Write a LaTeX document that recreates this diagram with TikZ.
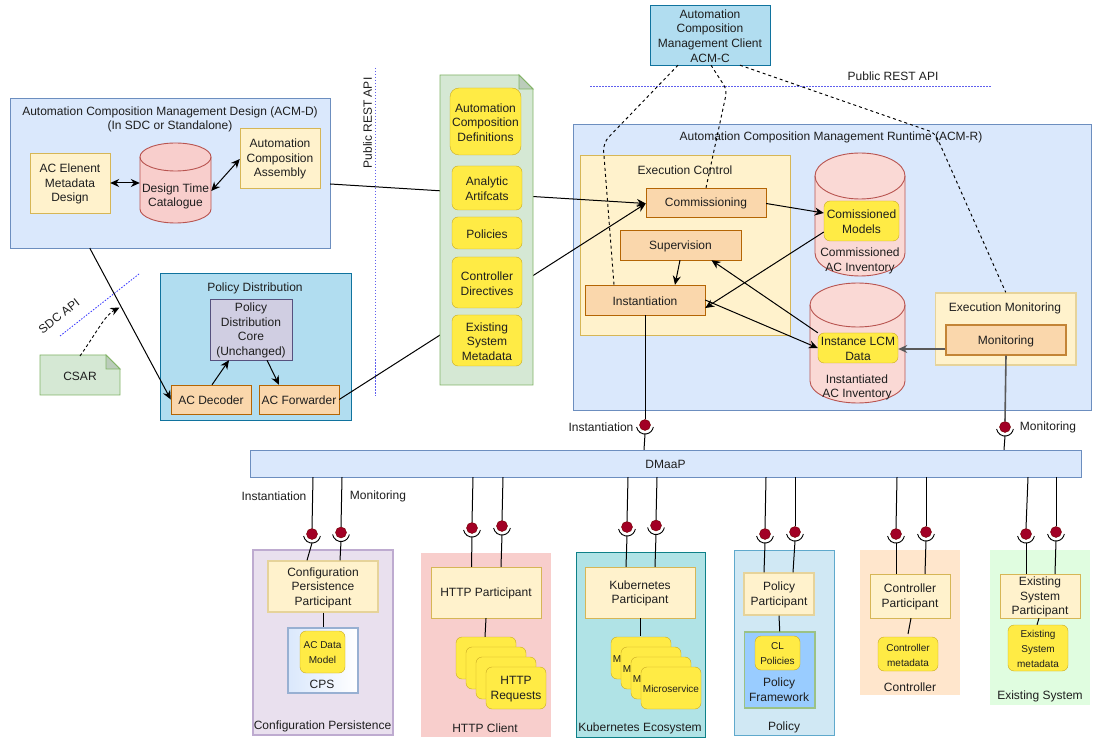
\documentclass[tikz,border=0pt]{standalone}
\usepackage{fontspec}
\setmainfont{Liberation Sans}
\usetikzlibrary{arrows.meta,shapes.geometric,shapes.misc,calc,shadings}
\definecolor{txt}{HTML}{1E1E1E}
\definecolor{bluef}{HTML}{DAE8FC}\definecolor{blued}{HTML}{6C8EBF}
\definecolor{creamf}{HTML}{FFF2CC}\definecolor{creamd}{HTML}{D6B656}
\definecolor{redf}{HTML}{F8CECC}\definecolor{redd}{HTML}{B85450}
\definecolor{orf}{HTML}{FAD7AC}\definecolor{ord}{HTML}{B46504}
\definecolor{skyf}{HTML}{B1DDF0}\definecolor{skyd}{HTML}{10739E}
\definecolor{purf}{HTML}{D0CEE2}\definecolor{purd}{HTML}{56517E}
\definecolor{grnf}{HTML}{D5E8D4}\definecolor{grnd}{HTML}{82B366}
\definecolor{yelf}{HTML}{FFEB45}\definecolor{yeld}{HTML}{C8A923}
\definecolor{ballf}{HTML}{A20025}\definecolor{balld}{HTML}{6F0000}
\definecolor{apid}{HTML}{5F5FEE}
\definecolor{tealf}{HTML}{B0E3E6}\definecolor{teald}{HTML}{0E8088}
\definecolor{cylf}{HTML}{FAD9D5}
\definecolor{lilacf}{HTML}{E9E0EE}\definecolor{lilacd}{HTML}{BEABD0}
\definecolor{polf}{HTML}{D0E8F4}\definecolor{pold}{HTML}{5FA9CC}
\definecolor{pfwf}{HTML}{99CCFF}
\definecolor{ctlf}{HTML}{FFE6CC}
\definecolor{exsf}{HTML}{E0FDE0}
\tikzset{
  every node/.style={text=txt,font=\fontsize{12}{14.6}\selectfont,align=center,inner sep=0pt,yshift=-1pt},
  bluebox/.style={draw=blued,fill=bluef},
  creambox/.style={draw=creamd,fill=creamf},
  softcream/.style={draw=creamd!60,fill=creamf,line width=1.3pt},
  orbox/.style={draw=ord,fill=orf},
  skybox/.style={draw=skyd,fill=skyf},
  purbox/.style={draw=purd,fill=purf},
  yelbox/.style={draw=yeld,fill=yelf,rounded corners=6pt},
  smalltxt/.style={font=\fontsize{10}{15}\selectfont},
  conn/.style={draw=black,line width=1pt},
  arr/.style={conn,-{Stealth[length=9pt,width=8pt]}},
  dbl/.style={conn,{Stealth[length=9pt,width=8pt]}-{Stealth[length=9pt,width=8pt]}},
  dashc/.style={draw=black,line width=.95pt,dash pattern=on 3pt off 3pt},
  apiline/.style={draw=apid,line width=.8pt,dash pattern=on 1.5pt off 1.5pt},
  ball/.style={circle,fill=ballf,draw=balld,line width=.4pt,minimum size=11pt,yshift=1pt},
}
% box by its corners; its text sits 1px below the centre, as in the reference
\newcommand{\bx}[7]{%
  \pgfmathsetmacro\cxx{(#2+#4)/2}\pgfmathsetmacro\cyy{(#3+#5)/2}%
  \pgfmathsetmacro\www{#4-#2}\pgfmathsetmacro\hhh{#5-#3}%
  \node[#6,yshift=1pt,minimum width=\www pt,minimum height=\hhh pt] (#1) at (\cxx,\cyy) {};
  \if\relax\detokenize{#7}\relax\else\node (#1t) at (#1.center) {#7};\fi}
% the same, with the small font
\newcommand{\bxs}[7]{%
  \pgfmathsetmacro\cxx{(#2+#4)/2}\pgfmathsetmacro\cyy{(#3+#5)/2}%
  \pgfmathsetmacro\www{#4-#2}\pgfmathsetmacro\hhh{#5-#3}%
  \node[#6,yshift=1pt,minimum width=\www pt,minimum height=\hhh pt] (#1) at (\cxx,\cyy) {};
  \node[smalltxt] (#1t) at (#1.center) {#7};}
% cylinder: name, x1, y1, x2, y2, ry, fill colour
\newcommand{\cyl}[7]{%
  \pgfmathsetmacro\cxx{(#2+#4)/2}\pgfmathsetmacro\rxx{(#4-#2)/2}%
  \pgfmathsetmacro\aaa{#3+#6}\pgfmathsetmacro\bbb{#5-#6}%
  \draw[redd,fill=#7,line width=.9pt] (#2,\aaa) arc[x radius=\rxx pt,y radius=#6pt,start angle=180,end angle=0]
    -- (#4,\bbb) arc[x radius=\rxx pt,y radius=#6pt,start angle=0,end angle=-180] -- cycle;
  \draw[redd,line width=.9pt] (#2,\aaa) arc[x radius=\rxx pt,y radius=#6pt,start angle=180,end angle=360];
  \pgfmathsetmacro\cyy{(#3+#5)/2}\pgfmathsetmacro\www{#4-#2}\pgfmathsetmacro\hhh{#5-#3}%
  \node[yshift=1pt,minimum width=\www pt,minimum height=\hhh pt] (#1) at (\cxx,\cyy) {};}
% note shape
\newcommand{\notepath}[5]{%
  \draw[grnd,fill=grnf,line width=.9pt] (#1,#2) -- ({#3-#5},#2) -- (#3,{#2+#5}) -- (#3,#4) -- (#1,#4) -- cycle;
  \draw[grnd,fill=grnf!88!black,line width=.9pt] ({#3-#5},#2) -- ({#3-#5},{#2+#5}) -- (#3,{#2+#5}) -- cycle;}
% lollipop: name, x, y
\newcommand{\lolli}[3]{%
  \node[ball] (#1) at (#2,#3) {};
  \pgfmathsetmacro\sy{#3+8}%
  \coordinate (#1-s) at (#2,\sy);
  \draw[black,line width=.9pt] ([xshift=-8.4pt,yshift=-2pt]#1.center) arc[radius=8.5pt,start angle=190,end angle=350];}
% interface below DMaaP: name, ball x, ball y, x on DMaaP, x on participant, participant node
\newcommand{\iface}[6]{%
  \lolli{#1}{#2}{#3}
  \coordinate (#1-t) at (#4,0);
  \coordinate (#1-b) at (#5,0);
  \draw[conn] (dmaap.south -| #1-t) -- (#1.north);
  \draw[conn] (#1-s) -- (#6.north -| #1-b);}
\begin{document}
\begin{tikzpicture}[x=1pt,y=-1pt]
\useasboundingbox (0,0) rectangle (1096,743);
\fill[white] (0,0) rectangle (1096,743);

% ---- ACM-D
\bx{acmd}{10}{98}{330}{248}{bluebox}{}
\node (acmdt) at (170,118.5) {Automation Composition Management Design (ACM-D)\\(In SDC or Standalone)};
\bx{acel}{30}{153}{110}{213}{creambox}{AC Elenent\\Metadata\\Design}
\cyl{dtc}{140}{143}{211}{223}{14}{redf}
\node (dtct) at (175.5,195.5) {Design Time\\Catalogue};
\bx{aca}{240}{128}{320}{188}{creambox}{Automation\\Composition\\Assembly}

% ---- Policy distribution
\bx{pd}{160}{273}{351}{420}{skybox}{}
\node (pdt) at (255,287) {Policy Distribution};
\bx{core}{210}{299}{292}{360}{purbox}{Policy\\Distribution\\Core\\(Unchanged)}
\bx{dec}{171}{385}{251}{414}{orbox}{AC Decoder}
\bx{fwd}{259}{385}{339}{414}{orbox}{AC Forwarder}

% ---- CSAR
\notepath{40}{355}{120}{395}{14}
\node (csar) at (80,375) {CSAR};
\coordinate (csartop) at (80,355);
\coordinate (sdchit) at (119.5,306.5);

% ---- API markers
\coordinate (sdca) at (60,335);\coordinate (sdcb) at (139,273);
\draw[apiline,draw=blue!80!white] (sdca) -- (sdcb);
\node[rotate=38] (sdct) at (59,315) {SDC API};
\coordinate (pra) at (375,67);\coordinate (prb) at (375,395);
\draw[apiline] (pra) -- (prb);
\node[rotate=90] (prt) at (367.5,122) {Public REST API};
\coordinate (phb) at (590,85);\coordinate (phc) at (991,85);
\draw[apiline] (phb) -- (phc);
\node (pht) at (893,75) {Public REST API};

% ---- ACM-C
\bx{acmc}{650}{5}{770}{65}{skybox}{Automation\\Composition\\Management Client\\ACM-C}

% ---- ACM-R
\bx{acmr}{573}{124}{1091}{410}{bluebox}{}
\node (acmrt) at (831,136.5) {Automation Composition Management Runtime (ACM-R)};
\bx{ec}{580.5}{155}{790.5}{335}{creambox}{}
\node (ect) at (685,169) {Execution Control};
\bx{comm}{646}{188}{766}{217}{orbox}{Commissioning}
\bx{sup}{620}{230}{741}{260}{orbox}{Supervision}
\bx{inst}{585}{285}{705}{315}{orbox}{Instantiation}
\cyl{cinv}{815}{153}{905}{276}{23}{cylf}
\bx{cmod}{824}{201}{899}{241}{yelbox}{Comissioned\\Models}
\node (cinvt) at (860,260) {Commissioned\\AC Inventory};
\cyl{iinv}{810}{283}{905}{403}{22}{cylf}
\bx{ilcm}{818}{333}{898}{363}{yelbox}{Instance LCM\\Data}
\node (iinvt) at (857,386.5) {Instantiated\\AC Inventory};
\bx{em}{935.5}{293}{1076}{365}{softcream}{}
\node (emt) at (1005,307) {Execution Monitoring};
\bx{mon}{946}{325}{1066}{355}{orbox,draw=ord!80,line width=1.1pt}{Monitoring}

% ---- DMaaP
\bx{dmaap}{250}{450}{1081}{477}{bluebox}{DMaaP}

% ---- upper lollipops
\lolli{lin}{645}{425}
\lolli{lmo}{1005}{427}
\node (linl) at (601,426.5) {Instantiation};
\node (lmol) at (1048,426.5) {Monitoring};
\draw[conn] (inst.south) -- (lin.north);
\draw[conn] (lin-s) -- ([xshift=-21.5pt]dmaap.north);
\draw[draw=black!65,line width=1.6pt] (mon.south) -- (lmo.north);
\draw[conn] (lmo-s) -- ([xshift=338.5pt]dmaap.north);

% ---- Configuration Persistence
\bx{cpg}{253}{550}{393}{735}{draw=lilacd,fill=lilacf,line width=1.1pt}{}
\node (cpgt) at (322.5,725.5) {Configuration Persistence};
\bx{cpp}{268}{561}{378}{612}{softcream}{Configuration\\Persistence\\Participant}
\bx{cps}{288}{628}{358}{693}{draw=blued!70,left color=bluef,right color=white,line width=1.2pt}{}
\node (cpst) at (322,683.5) {CPS};
\bxs{acdm}{300}{631}{345}{673}{yelbox}{AC Data\\Model}
\draw[conn] (cpp.south) -- (cps.north);
\node (l1) at (274,495.5) {Instantiation};
\node (l2) at (378,495.5) {Monitoring};
\iface{a1}{312}{534}{313}{307}{cpp}
\iface{a2}{341}{532.5}{342}{340}{cpp}

% ---- HTTP client
\bx{hcg}{421}{553}{551}{737}{fill=redf}{}
\node (hcgt) at (485,727) {HTTP Client};
\bx{hp}{431}{567}{541}{618}{creambox}{HTTP Participant}
\bx{hr1}{456}{637}{516}{679}{yelbox}{}
\bx{hr2}{466}{647}{526}{689}{yelbox}{}
\bx{hr3}{476}{657}{536}{699}{yelbox}{}
\bx{hr4}{486}{667}{546}{709}{yelbox}{HTTP\\Requests}
\draw[conn] (hp.south) -- ([xshift=-1pt]hr1.north);
\iface{b1}{472}{528}{473}{471.5}{hp}
\iface{b2}{502}{526}{503}{501}{hp}

% ---- Kubernetes
\bx{kg}{576}{552}{705.5}{737}{draw=teald,fill=tealf}{}
\node (kgt) at (640,727) {Kubernetes Ecosystem};
\bx{kp}{585}{567}{695}{618}{creambox}{Kubernetes\\Participant}
\bxs{ms1}{611}{637}{671}{679}{yelbox}{Microservice}
\bxs{ms2}{621}{647}{681}{689}{yelbox}{Microservice}
\bxs{ms3}{631}{657}{691}{699}{yelbox}{Microservice}
\bxs{ms4}{641}{667}{701}{709}{yelbox}{Microservice}
\coordinate (kpdown) at (640,635);
\draw[conn] (kp.south) -- (kpdown);
\iface{c1}{627}{527}{628}{626}{kp}
\iface{c2}{656}{525.5}{657}{655}{kp}

% ---- Policy
\bx{pg}{734}{550}{834}{735}{draw=pold,fill=polf}{}
\node (pgt) at (784,726) {Policy};
\bx{pp}{744}{573}{814}{615}{softcream}{Policy\\Participant}
\bx{pf}{744.5}{632}{815}{708}{draw=grnd!80,fill=pfwf,line width=1.1pt}{}
\node (pft) at (779,689) {Policy\\Framework};
\bxs{clp}{755}{636}{800}{670}{yelbox}{CL\\Policies}
\draw[conn] (pp.south) -- (pf.north);
\iface{d1}{765}{534}{766}{764}{pp}
\iface{d2}{795}{532}{795}{793}{pp}

% ---- Controller
\bx{cg}{860}{550}{960}{695}{fill=ctlf}{}
\node (cgt) at (910,686) {Controller};
\bx{ctp}{870}{574}{950}{618}{creambox}{Controller\\Participant}
\bxs{ctm}{878}{637}{938}{671}{yelbox}{Controller\\metadata}
\coordinate (ctdown) at (908,633);
\draw[conn] ([xshift=1pt]ctp.south) -- (ctdown);
\iface{e1}{896}{534}{897}{896}{ctp}
\iface{e2}{926}{532}{926}{925}{ctp}

% ---- Existing system
\bx{eg}{990}{550}{1090}{705}{fill=exsf}{}
\node (egt) at (1040,695.5) {Existing System};
\bx{ep}{1000}{574}{1080}{618}{creambox}{Existing\\System\\Participant}
\bxs{emd}{1008}{625}{1068}{671}{yelbox}{Existing\\System\\metadata}
\draw[conn] ([xshift=-1pt]ep.south) -- ([xshift=-1pt]emd.north);
\iface{f1}{1026}{534}{1028}{1026}{ep}
\iface{f2}{1056}{532}{1056}{1055}{ep}

% ---- connectors, left
\draw[dbl] (acel.east) -- (dtc.west);
\draw[dbl] ([yshift=-8pt]dtc.east) -- ([yshift=-1pt]aca.west);
\draw[arr] (acmd.south west) ++(80,0) -- (dec.west);
\draw[arr] ([xshift=1pt]dec.north) -- ([xshift=-22pt]core.south);
\draw[arr] ([xshift=16pt]core.south) -- ([xshift=-20pt]fwd.north);
\draw[arr,dash pattern=on 3pt off 2.5pt,line width=.9pt] (csartop) .. controls (97,332) and (105,315) .. (sdchit);

% ---- connectors, ACM-R
\draw[arr] ([yshift=-11pt]acmd.east) -- ([yshift=-1pt]comm.west);
\draw[arr] (fwd.east) -- ([yshift=-1pt]comm.west);
\draw[arr] ([yshift=-1pt]comm.east) -- ([yshift=8pt]cmod.west);
\draw[arr] ([yshift=-11pt]cmod.west) -- ([yshift=-8pt]inst.east);
\draw[arr] ([xshift=-0.5pt]sup.south) -- ([xshift=30pt]inst.north);
\draw[arr] (ilcm.north west) -- ([xshift=31pt]sup.south);
\draw[arr] (inst.east) -- (ilcm.west);
\draw[draw=black!65,line width=1.4pt,-{Stealth[length=9pt,width=8pt]}] ([yshift=-9pt]mon.west) -- ([yshift=-1pt]ilcm.east);

% ---- ACM-C dashed
\draw[dashc,rounded corners=8pt] ([xshift=-32pt]acmc.south) -- (603,143) -- ([xshift=-31pt]inst.north);
\draw[dashc,rounded corners=6pt] ([xshift=1pt]acmc.south) -- (727,90) -- (comm.north);
\draw[dashc,rounded corners=6pt] ([xshift=30pt]acmc.south) -- (935,133) -- (em.north);

% ---- artefact note, drawn over the lines that pass behind it
\notepath{440}{75}{533}{385}{14}
\bx{d1b}{450}{88}{521}{155}{yelbox,rounded corners=9pt}{Automation\\Composition\\Definitions}
\bx{d2b}{452}{166}{522}{210}{yelbox}{Analytic\\Artifcats}
\bx{d3b}{452}{217}{522}{249}{yelbox}{Policies}
\bx{d4b}{452}{257}{522}{308}{yelbox}{Controller\\Directives}
\bx{d5b}{452}{315}{522}{366}{yelbox}{Existing\\System\\Metadata}
\end{tikzpicture}
\end{document}
